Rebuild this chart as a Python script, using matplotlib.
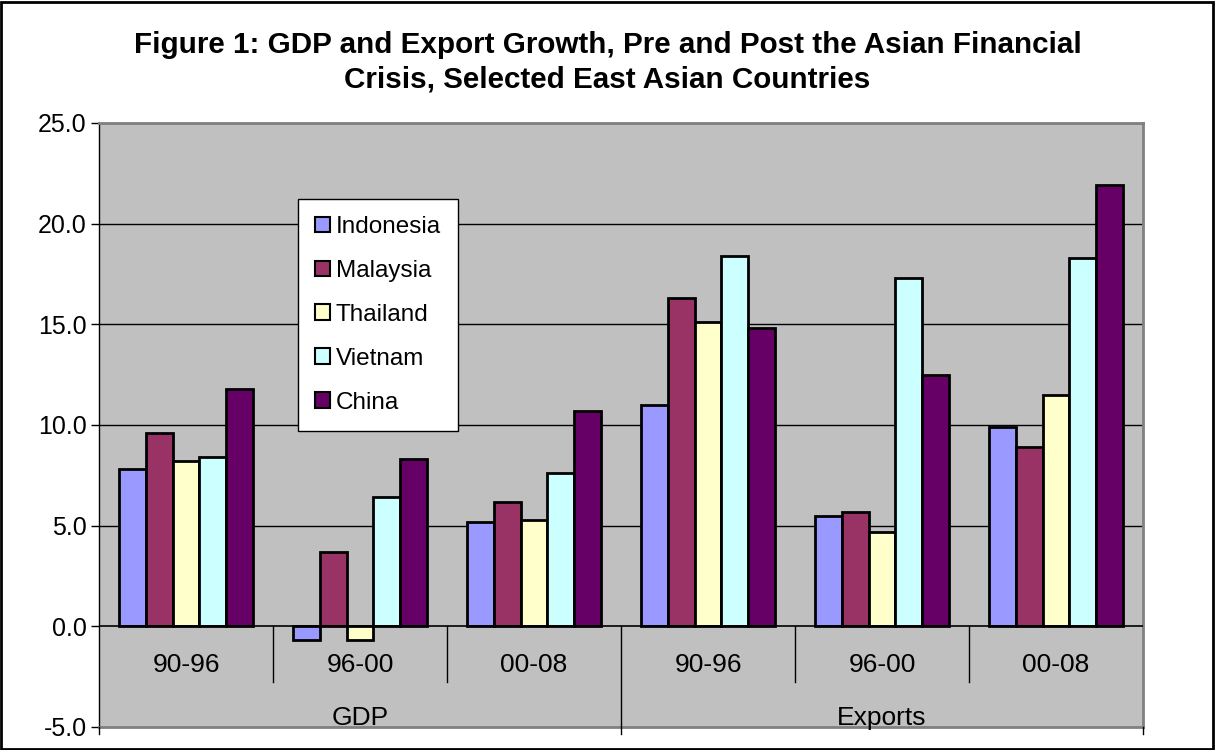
import matplotlib
matplotlib.use("Agg")
import matplotlib.pyplot as plt
import numpy as np

plt.rcParams['font.family'] = ['Liberation Sans', 'DejaVu Sans']

countries = ["Indonesia", "Malaysia", "Thailand", "Vietnam", "China"]
periods = ["90-96", "96-00", "00-08", "90-96", "96-00", "00-08"]
groups = ["GDP", "Exports"]

indonesia = [7.8, -0.7, 5.2, 11.0, 5.5, 9.9]
malaysia = [9.6, 3.7, 6.2, 16.3, 5.7, 8.9]
thailand = [8.2, -0.7, 5.3, 15.1, 4.7, 11.5]
vietnam = [8.4, 6.4, 7.6, 18.4, 17.3, 18.3]
china = [11.8, 8.3, 10.7, 14.8, 12.5, 21.9]

series = [indonesia, malaysia, thailand, vietnam, china]
colors = ["#9999FF", "#993366", "#FFFFCC", "#CCFFFF", "#660066"]

W, H = 1215, 750
fig = plt.figure(figsize=(W / 100, H / 100), dpi=100)
fig.patch.set_facecolor("white")

# outer frame
fig.add_artist(plt.Rectangle((1 / W, 1 / H), 1 - 3 / W, 1 - 3 / H,
                             transform=fig.transFigure, fill=False,
                             edgecolor="black", linewidth=2))

left, right, top, bottom = 99, 1143, 123, 727
ax = fig.add_axes([left / W, (H - bottom) / H, (right - left) / W, (bottom - top) / H])
ax.set_facecolor("#C0C0C0")
ax.set_xlim(0, 6)
ax.set_ylim(-5, 25)

n = len(series)
bw = 1 / (n + 1.5)
x = np.arange(len(periods)) + 0.5
for j, (vals, c, name) in enumerate(zip(series, colors, countries)):
    ax.bar(x + (j - (n - 1) / 2) * bw, vals, width=bw, color=c,
           edgecolor="black", linewidth=2, label=name, zorder=3)

ax.set_yticks(np.arange(-5, 26, 5))
ax.set_yticklabels([f"{v:.1f}" for v in np.arange(-5, 26, 5)], fontsize=18)
for v in np.arange(5, 26, 5):
    ax.axhline(v, color="black", linewidth=1, zorder=1)
ax.axhline(0, color="black", linewidth=1.2, zorder=4)
ax.set_xticks([])
ax.tick_params(axis="y", direction="out", length=6, width=1, pad=3, color="black")

for s in ["top", "right", "bottom"]:
    ax.spines[s].set_color("#808080")
    ax.spines[s].set_linewidth(2)
ax.spines["left"].set_color("black")
ax.spines["left"].set_linewidth(1)

# category labels
for i, p in enumerate(periods):
    ax.text(i + 0.5, -1.9, p, ha="center", va="center", fontsize=19)
for k, g in enumerate(groups):
    ax.text(3 * k + 1.5, -4.55, g, ha="center", va="center", fontsize=19)

# separators
for xs in [1, 2, 4, 5]:
    ax.plot([xs, xs], [0, -2.75], color="black", linewidth=1, clip_on=False, zorder=4)
ax.plot([3, 3], [0, -5.35], color="black", linewidth=1, clip_on=False, zorder=4)
for xs in [0, 6]:
    ax.plot([xs, xs], [-5, -5.35], color="black", linewidth=1, clip_on=False, zorder=4)

leg = ax.legend(loc="upper left", bbox_to_anchor=(298 / W, 1 - 199 / H),
                bbox_transform=fig.transFigure, fontsize=17.5, frameon=True,
                fancybox=False, edgecolor="black", framealpha=1,
                handlelength=0.6, handleheight=0.6, handletextpad=0.25,
                labelspacing=0.9, borderpad=0.7, borderaxespad=0)
leg.get_frame().set_linewidth(1)
for h in leg.legend_handles:
    h.set_linewidth(1.5)

fig.text(0.5, 1 - 45 / H, "Figure 1: GDP and Export Growth, Pre and Post the Asian Financial",
         ha="center", va="center", fontsize=21.3, fontweight="bold")
fig.text(0.5, 1 - 80 / H, "Crisis, Selected East Asian Countries",
         ha="center", va="center", fontsize=21.3, fontweight="bold")

fig.savefig("out.png", dpi=100)
